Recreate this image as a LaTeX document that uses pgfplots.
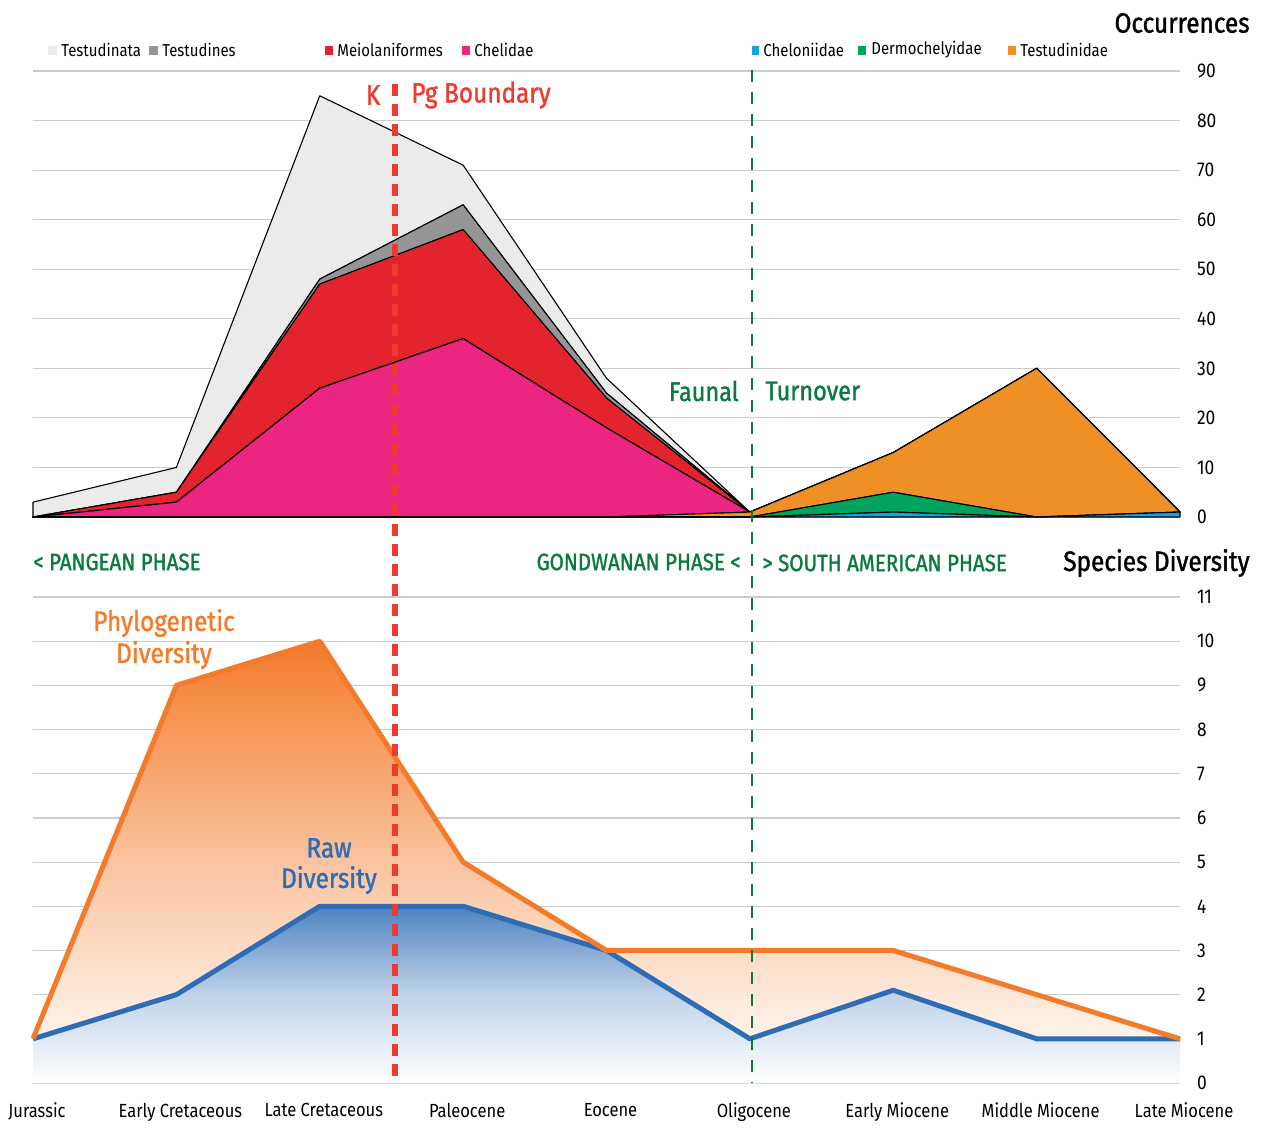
\documentclass[border=0pt]{standalone}
\usepackage{pgfplots}
\pgfplotsset{compat=1.18}
\usepackage{fontspec}
\setmainfont{Fira Sans}[FakeStretch=0.87]
\newfontfamily\medfont{Fira Sans}[FakeStretch=0.87, FakeBold=1.3]

\definecolor{lightC}{HTML}{EBEBEB}
\definecolor{grayC}{HTML}{959595}
\definecolor{redC}{HTML}{E3242F}
\definecolor{pinkC}{HTML}{EC2580}
\definecolor{cheloC}{HTML}{11A8E0}
\definecolor{dermoC}{HTML}{00A45E}
\definecolor{testC}{HTML}{EF9027}
\definecolor{gridC}{HTML}{CCCCCC}
\definecolor{kpgC}{HTML}{EE3B30}
\definecolor{faunC}{HTML}{0B7A3E}
\definecolor{phyC}{HTML}{F47B2A}
\definecolor{rawC}{HTML}{2E6DB5}

\begin{document}
\begin{tikzpicture}
\begin{scope}[x=0.5pt,y=-0.5pt]
\path[use as bounding box] (0,0) rectangle (1267,1121);
\end{scope}

% ---------- top panel: occurrences ----------
\begin{axis}[
  at={(16.5pt,-258.5pt)}, anchor=south west,
  scale only axis, width=573.5pt, height=223pt,
  xmin=0, xmax=8, ymin=0, ymax=90,
  axis line style={draw=none},
  xtick=\empty, ytick={0,10,...,90},
  yticklabel pos=right,
  ymajorgrids, grid style={line width=0.6pt, draw=gridC},
  major tick length=0pt,
  tick label style={font=\fontsize{10}{12}\selectfont},
  yticklabel style={anchor=west, xshift=5pt},
  /pgf/number format/assume math mode=true,
  stack plots=y, clip=false,
  every axis plot/.append style={draw=black, line width=0.55pt, line join=round},
]
\addplot[fill=cheloC] coordinates {(0,0)(1,0)(2,0)(3,0)(4,0)(5,0)(6,1)(7,0)(8,1)} \closedcycle;
\addplot[fill=dermoC] coordinates {(0,0)(1,0)(2,0)(3,0)(4,0)(5,0)(6,4)(7,0)(8,0)} \closedcycle;
\addplot[fill=testC] coordinates {(0,0)(1,0)(2,0)(3,0)(4,0)(5,1)(6,8)(7,30)(8,0)} \closedcycle;
\addplot[fill=pinkC] coordinates {(0,0)(1,3)(2,26)(3,36)(4,18)(5,0)(6,0)(7,0)(8,0)} \closedcycle;
\addplot[fill=redC] coordinates {(0,0)(1,2)(2,21)(3,22)(4,6)(5,0)(6,0)(7,0)(8,0)} \closedcycle;
\addplot[fill=grayC] coordinates {(0,0)(1,0)(2,1)(3,5)(4,1)(5,0)(6,0)(7,0)(8,0)} \closedcycle;
\addplot[fill=lightC] coordinates {(0,3)(1,5)(2,37)(3,8)(4,3)(5,0)(6,0)(7,0)(8,0)} \closedcycle;
\end{axis}

% ---------- bottom panel: species diversity ----------
\begin{axis}[
  at={(16.5pt,-541.5pt)}, anchor=south west,
  scale only axis, width=573.5pt, height=243pt,
  xmin=0, xmax=8, ymin=0, ymax=11,
  axis line style={draw=none},
  xtick={0,...,8},
  xticklabels={Jurassic,Early Cretaceous,Late Cretaceous,Paleocene,Eocene,Oligocene,Early Miocene,Middle Miocene,Late Miocene},
  ytick={0,1,...,11},
  yticklabel pos=right,
  ymajorgrids, grid style={line width=0.6pt, draw=gridC},
  major tick length=0pt,
  tick label style={font=\fontsize{10}{12}\selectfont},
  xticklabel style={font=\fontsize{9.5}{11}\selectfont, yshift=-6.5pt, xshift=2pt},
  yticklabel style={anchor=west, xshift=5pt},
  /pgf/number format/assume math mode=true,
  clip=false,
]
\addplot[draw=none, top color=phyC, bottom color=white, middle color=phyC!45!white] coordinates {(0,1)(1,9)(2,10)(3,5)(4,3)(5,3)(6,3)(7,2)(8,1)} \closedcycle;
\addplot[draw=none, top color=rawC!85!white, bottom color=white, middle color=rawC!30!white] coordinates {(0,1)(1,2)(2,4)(3,4)(4,3)(5,1)(6,2.1)(7,1)(8,1)} \closedcycle;
\addplot[rawC, line width=2.5pt, line join=round] coordinates {(0,1)(1,2)(2,4)(3,4)(4,3)(5,1)(6,2.1)(7,1)(8,1)};
\addplot[phyC, line width=2.5pt, line join=round] coordinates {(0,1)(1,9)(2,10)(3,5)(4,3)(5,3)(6,3)(7,2)(8,1)};
\end{axis}

% ---------- annotations (pixel coordinates) ----------
\begin{scope}[x=0.5pt,y=-0.5pt]
\draw[kpgC, line width=2.6pt, dash pattern=on 6pt off 4pt] (395,84) -- (395,1083);
\draw[faunC, line width=1.4pt, dash pattern=on 6pt off 5pt] (752,70) -- (752,1083);

\begin{scope}[every node/.style={inner sep=0}]
\node[text=kpgC, font=\medfont\fontsize{14}{16}\selectfont] at (373,95) {K};
\node[text=kpgC, font=\medfont\fontsize{14}{16}\selectfont, anchor=west] at (411,95) {Pg Boundary};
\node[text=faunC, font=\medfont\fontsize{13.5}{16}\selectfont, anchor=east] at (739,391) {Faunal};
\node[text=faunC, font=\medfont\fontsize{13.5}{16}\selectfont, anchor=west] at (765,391) {Turnover};

\node[text=faunC, font=\medfont\fontsize{11.8}{13}\selectfont, anchor=west] at (33,562) {< PANGEAN PHASE};
\node[text=faunC, font=\medfont\fontsize{11.8}{13}\selectfont, anchor=east] at (741,562) {GONDWANAN PHASE <};
\node[text=faunC, font=\medfont\fontsize{11.8}{13}\selectfont, anchor=west] at (762,563) {> SOUTH AMERICAN PHASE};

\node[font=\medfont\fontsize{14}{16}\selectfont, anchor=east] at (1250,23) {Occurrences};
\node[font=\medfont\fontsize{14}{16}\selectfont, anchor=east] at (1250,563) {Species Diversity};

\node[text=phyC, font=\medfont\fontsize{14}{16}\selectfont] at (164,623) {Phylogenetic};
\node[text=phyC, font=\medfont\fontsize{14}{16}\selectfont] at (164,655) {Diversity};
\node[text=rawC, font=\medfont\fontsize{14}{16}\selectfont] at (329,848) {Raw};
\node[text=rawC, font=\medfont\fontsize{14}{16}\selectfont] at (329,880) {Diversity};
\end{scope}

% legend
\begin{scope}[every node/.style={font=\fontsize{8.6}{10}\selectfont, inner sep=0, anchor=west}]
\fill[lightC] (48,46) rectangle (57,55);  \node at (61,50) {Testudinata};
\fill[grayC] (149,46) rectangle (158,55); \node at (162,50) {Testudines};
\fill[redC] (325,46) rectangle (333,55);  \node at (337,50) {Meiolaniformes};
\fill[pinkC] (462,46) rectangle (470,55); \node at (474,50) {Chelidae};
\fill[cheloC] (752,46) rectangle (759,55); \node at (763,50) {Cheloniidae};
\fill[dermoC] (858,46) rectangle (866,55); \node at (871,50) {Dermochelyidae};
\fill[testC] (1008,46) rectangle (1016,55); \node at (1020,50) {Testudinidae};
\end{scope}
\end{scope}
\end{tikzpicture}
\end{document}
